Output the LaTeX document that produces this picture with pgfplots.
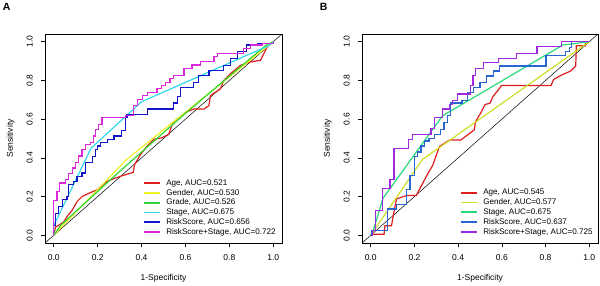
\documentclass[border=0pt]{standalone}
\usepackage{fontspec}
\setmainfont{Liberation Sans}
\usepackage{pgfplots}
\pgfplotsset{compat=1.18}
\definecolor{cAge}{RGB}{222,30,30}
\definecolor{cGenA}{RGB}{240,240,40}
\definecolor{cGrade}{RGB}{50,215,50}
\definecolor{cStageA}{RGB}{50,215,240}
\definecolor{cRiskA}{RGB}{20,20,200}
\definecolor{cRSA}{RGB}{220,40,220}
\definecolor{cGenB}{RGB}{205,222,40}
\definecolor{cStageB}{RGB}{40,215,120}
\definecolor{cRiskB}{RGB}{40,100,210}
\definecolor{cRSB}{RGB}{160,40,225}
\newcommand{\legfont}{\fontsize{8.1}{9}\selectfont}
\pgfplotsset{
  legend image code/.code={\fill[#1, draw=none] (0pt,-0.9pt) rectangle (15.7pt,0.9pt);},
}
\pgfplotsset{rocaxis/.style={
  scale only axis, height=209pt,
  xmin=-0.04,xmax=1.04,ymin=-0.04,ymax=1.04,
  xtick={0,0.2,0.4,0.6,0.8,1}, ytick={0,0.2,0.4,0.6,0.8,1},
  xticklabels={0.0,0.2,0.4,0.6,0.8,1.0}, yticklabels={0.0,0.2,0.4,0.6,0.8,1.0},
  tick align=outside, xtick pos=bottom, ytick pos=left,
  major tick length=4pt,
  every tick/.style={black, line width=0.6pt},
  axis line style={line width=0.7pt},
  tick label style={font=\fontsize{8.5}{10}\selectfont},
  xticklabel style={yshift=-4pt},
  yticklabel style={rotate=90, anchor=south, inner ysep=8pt},
  label style={font=\fontsize{8.5}{10}\selectfont},
  xlabel={1-Specificity}, ylabel={Sensitivity},
  xlabel style={at={(axis description cs:0.5,-0.1675)}, anchor=center},
  ylabel style={at={(axis description cs:-0.145,0.5)}, anchor=center},
  legend cell align=left,
  legend style={draw=none, fill=none, inner sep=0pt, outer sep=0pt,
    font=\legfont, row sep=2pt, column sep=6.6pt,
    nodes={font=\legfont, inner xsep=0pt, inner ysep=0pt, text height=6pt, text depth=1.8pt},
    anchor=north west},
}}
\begin{document}
\begin{tikzpicture}
\path[use as bounding box] (0pt,0pt) rectangle (600pt,-285pt);
\node[font=\bfseries\fontsize{10.5}{12}\selectfont] at (6.7pt,-6.7pt) {A};
\node[font=\bfseries\fontsize{10.5}{12}\selectfont] at (323.7pt,-6.5pt) {B};
\begin{axis}[rocaxis, at={(45pt,-243pt)}, anchor=south west, width=237pt,
  legend style={at={(axis description cs:0.4177,0.305)}}]
\addplot[black, line width=0.5pt, forget plot] coordinates {(-0.04,-0.04)(1.04,1.04)};
\addplot[cAge, line width=1.2pt] coordinates {(0,0)(0.008,0.043)(0.023,0.052)(0.046,0.07)(0.06,0.096)(0.084,0.13)(0.106,0.174)(0.129,0.2)(0.16,0.217)(0.198,0.235)(0.243,0.278)(0.281,0.296)(0.327,0.313)(0.362,0.325)(0.368,0.365)(0.395,0.417)(0.426,0.461)(0.456,0.496)(0.494,0.504)(0.524,0.522)(0.54,0.574)(0.562,0.6)(0.6,0.635)(0.638,0.652)(0.684,0.652)(0.707,0.67)(0.714,0.722)(0.76,0.757)(0.775,0.8)(0.805,0.835)(0.851,0.878)(0.897,0.896)(0.942,0.904)(0.957,0.939)(0.973,0.974)(1,1)};
\addlegendentry{Age, AUC=0.521}
\addplot[cGenA, line width=1.2pt] coordinates {(0,0)(0.33,0.39)(1,1)};
\addlegendentry{Gender, AUC=0.530}
\addplot[cGrade, line width=1.2pt] coordinates {(0,0)(0.03,0.05)(0.3,0.33)(0.6,0.63)(0.97,0.985)(1,1)};
\addlegendentry{Grade, AUC=0.526}
\addplot[cStageA, line width=1.2pt] coordinates {(0,0)(0,0.05)(0.17,0.45)(0.4,0.69)(0.98,0.98)(1,1)};
\addlegendentry{Stage, AUC=0.675}
\addplot[cRiskA, line width=1.2pt, const plot mark left] coordinates {(0,0)(0,0.052)(0.008,0.113)(0.023,0.148)(0.038,0.183)(0.06,0.2)(0.068,0.261)(0.091,0.278)(0.106,0.304)(0.129,0.322)(0.144,0.374)(0.175,0.409)(0.19,0.443)(0.198,0.461)(0.213,0.478)(0.243,0.496)(0.274,0.513)(0.31,0.54)(0.327,0.609)(0.334,0.626)(0.426,0.652)(0.545,0.683)(0.565,0.718)(0.578,0.762)(0.636,0.788)(0.661,0.826)(0.707,0.852)(0.775,0.878)(0.805,0.913)(0.836,0.948)(0.88,0.983)(0.927,0.991)(1,1)};
\addlegendentry{RiskScore, AUC=0.656}
\addplot[cRSA, line width=1.2pt, const plot mark left] coordinates {(0,0)(0,0.18)(0.015,0.226)(0.027,0.27)(0.053,0.287)(0.068,0.32)(0.084,0.348)(0.1,0.374)(0.114,0.41)(0.129,0.443)(0.144,0.47)(0.167,0.478)(0.18,0.513)(0.19,0.548)(0.205,0.574)(0.22,0.609)(0.327,0.617)(0.365,0.67)(0.38,0.7)(0.403,0.722)(0.426,0.739)(0.47,0.757)(0.49,0.775)(0.51,0.791)(0.53,0.81)(0.547,0.826)(0.593,0.861)(0.63,0.88)(0.669,0.896)(0.73,0.922)(0.745,0.939)(0.866,0.965)(0.897,0.983)(0.95,0.991)(1,1)};
\addlegendentry{RiskScore+Stage, AUC=0.722}
\end{axis}
\begin{axis}[rocaxis, at={(362pt,-243pt)}, anchor=south west, width=236pt,
  legend style={at={(axis description cs:0.4195,0.259)}}]
\addplot[black, line width=0.5pt, forget plot] coordinates {(-0.04,-0.04)(1.04,1.04)};
\addplot[cAge, line width=1.2pt] coordinates {(0,0)(0.005,0.005)(0.061,0.005)(0.065,0.049)(0.095,0.049)(0.103,0.101)(0.118,0.188)(0.163,0.205)(0.208,0.205)(0.261,0.318)(0.284,0.362)(0.314,0.458)(0.36,0.492)(0.412,0.492)(0.473,0.544)(0.48,0.588)(0.503,0.631)(0.523,0.675)(0.546,0.683)(0.56,0.718)(0.591,0.762)(0.598,0.774)(0.825,0.774)(0.837,0.805)(0.87,0.826)(0.915,0.849)(0.938,0.875)(0.941,0.979)(0.983,0.979)(0.983,1)(1,1)};
\addlegendentry{Age, AUC=0.545}
\addplot[cGenB, line width=1.2pt] coordinates {(0,0)(0.236,0.391)(1,1)};
\addlegendentry{Gender, AUC=0.577}
\addplot[cStageB, line width=1.2pt] coordinates {(0,0)(0.01,0.02)(0.056,0.191)(0.328,0.617)(0.879,0.983)(1,1)};
\addlegendentry{Stage, AUC=0.675}
\addplot[cRiskB, line width=1.2pt, const plot mark left] coordinates {(0,0)(0.005,0.023)(0.076,0.136)(0.118,0.158)(0.163,0.235)(0.18,0.309)(0.199,0.405)(0.215,0.43)(0.23,0.461)(0.245,0.487)(0.267,0.5)(0.29,0.522)(0.32,0.548)(0.335,0.583)(0.35,0.617)(0.365,0.683)(0.418,0.696)(0.441,0.739)(0.471,0.765)(0.5,0.791)(0.53,0.823)(0.56,0.849)(0.591,0.875)(0.802,0.927)(0.893,0.948)(0.908,0.97)(0.92,1)(1,1)};
\addlegendentry{RiskScore, AUC=0.637}
\addplot[cRSB, line width=1.2pt, const plot mark left] coordinates {(0,0)(0.009,0.023)(0.02,0.13)(0.054,0.24)(0.088,0.289)(0.106,0.449)(0.171,0.496)(0.19,0.522)(0.276,0.553)(0.29,0.609)(0.328,0.652)(0.36,0.674)(0.373,0.696)(0.396,0.73)(0.456,0.774)(0.468,0.826)(0.479,0.861)(0.515,0.892)(0.583,0.913)(0.666,0.941)(0.761,0.975)(0.874,1)(1,1)};
\addlegendentry{RiskScore+Stage, AUC=0.725}
\end{axis}
\end{tikzpicture}
\end{document}
